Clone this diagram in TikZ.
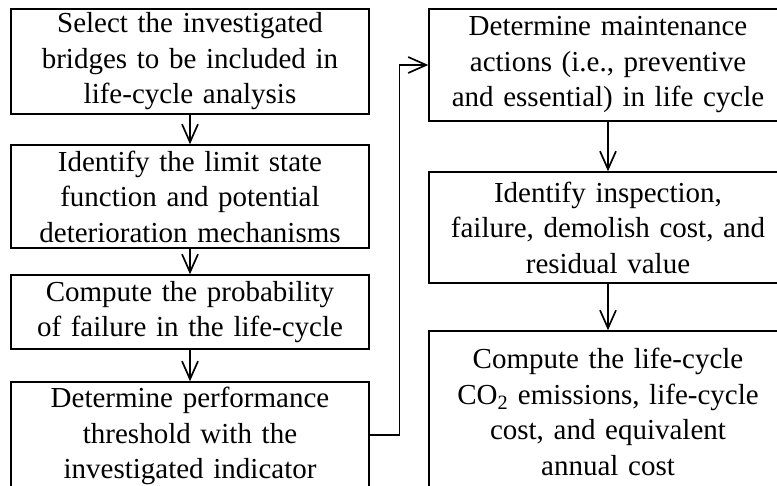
\documentclass[tikz,border=0pt]{standalone}
\usepackage{fontspec}
\setmainfont{Liberation Serif}
\usetikzlibrary{arrows.meta}

\begin{document}
\begin{tikzpicture}[x=1pt, y=1pt, every node/.style={font=\fontsize{29}{35.5}\selectfont},
	box/.style={draw, line width=1.4pt, minimum width=358pt, text width=350pt, align=center, inner sep=0pt},
	>={Straight Barb[length=18pt, width=16pt, line width=1.7pt]}]
	\useasboundingbox (0,0) rectangle (777,-486);
	\clip (0,0) rectangle (777,-486);
	% left column
	\node[box, minimum height=105pt] (sel) at (190,-61.5) {Select the investigated\\ bridges to be included in\\ life-cycle analysis};
	\node[box, minimum height=103pt] (lim) at (190,-196.5) {Identify the limit state\\ function and potential\\ deterioration mechanisms};
	\node[box, minimum height=74pt] (prob) at (190,-312) {Compute the probability\\ of failure in the life-cycle};
	\node[box, minimum height=108pt] (thr) at (190,-436) {Determine performance\\ threshold with the\\ investigated indicator};
	% right column
	\node[box, minimum height=112pt] (mnt) at (608,-65) {Determine maintenance\\ actions (i.e., preventive\\ and essential) in life cycle};
	\node[box, minimum height=111pt] (insp) at (608,-227.5) {Identify inspection,\\ failure, demolish cost, and\\ residual value};
	\node[box, minimum height=162pt] (co2) at (608,-412) {Compute the life-cycle\\ CO\textsubscript{2} emissions, life-cycle\\ cost, and equivalent\\ annual cost};
	% connectors
	\draw[->, line width=1.3pt] (sel) -- (lim);
	\draw[->, line width=1.3pt] (lim) -- (prob);
	\draw[->, line width=1.3pt] (prob) -- (thr);
	\draw[->, line width=1.3pt] ([yshift=1pt]thr.east) -- ++(30,0) |- (mnt.west);
	\draw[->, line width=1.3pt] (mnt) -- (insp);
	\draw[->, line width=1.3pt] (insp) -- (co2);
\end{tikzpicture}
\end{document}
